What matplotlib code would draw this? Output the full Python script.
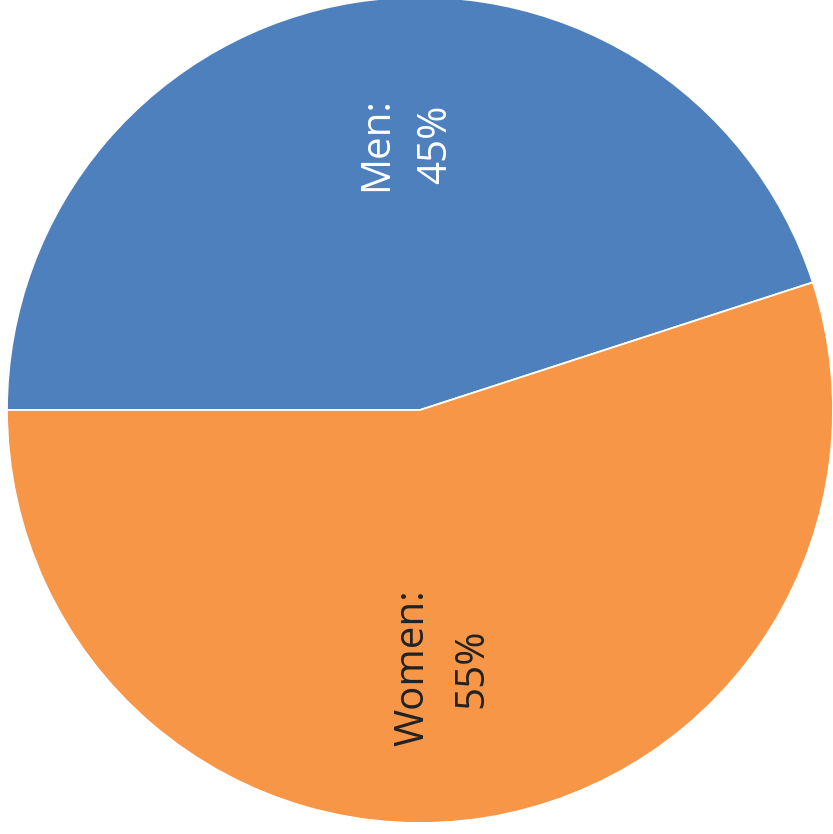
import matplotlib
matplotlib.use("Agg")
import matplotlib.pyplot as plt

categories = ["Men", "Women"]
values = [45, 55]
colors = ["#4D80BD", "#F79646"]
text_colors = ["white", "#222222"]

W, H = 833, 834
fig = plt.figure(figsize=(W / 100, H / 100), dpi=100)
ax = fig.add_axes([0, 0, 1, 1])

cx, cy, R = 420, 410, 413  # pixels
wedges, _ = ax.pie(values, colors=colors, startangle=180, counterclock=False,
                   radius=1, center=(0, 0),
                   wedgeprops=dict(edgecolor="white", linewidth=1.3))
ax.set_aspect("auto")
ax.set_xlim(-cx / R, (W - cx) / R)
ax.set_ylim(-(H - cy) / R, cy / R)
ax.axis("off")

label_pix = [(406, 144), (443, 668)]
for cat, v, (px, py), tc in zip(categories, values, label_pix, text_colors):
    ax.text((px - cx) / R, (cy - py) / R, f"{cat}:\n{v}%", rotation=90,
            ha="center", va="center", multialignment="center",
            fontsize=29, color=tc, family="Open Sans", linespacing=1.6)

fig.savefig("out.png", dpi=100)
